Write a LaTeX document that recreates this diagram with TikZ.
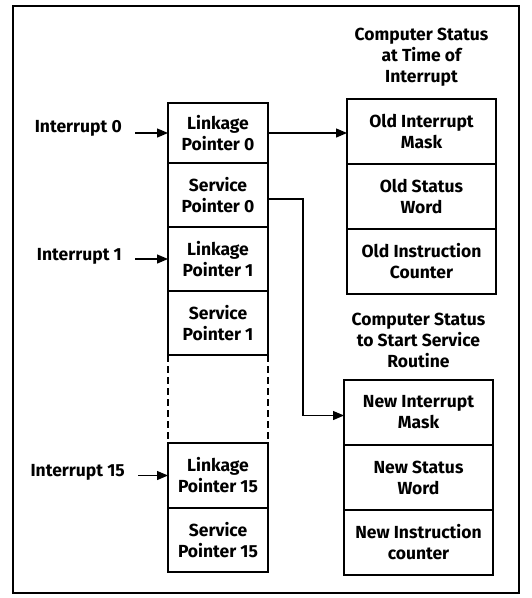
\documentclass[tikz,border=0pt]{standalone}
\usepackage{fontspec}
\setmainfont{Fira Sans}
\usetikzlibrary{positioning, arrows.meta, calc}

\begin{document}
\begin{tikzpicture}[x=1pt, y=-1pt,
    every node/.style={font=\bfseries\fontsize{17.5}{21}\selectfont},
    cell/.style={draw, line width=1.3pt, minimum width=100pt, minimum height=64pt,
                 align=center, inner sep=0pt, outer sep=0pt},
    wide/.style={cell, minimum width=149pt, minimum height=65pt},
    lbl/.style={inner xsep=13pt, inner ysep=0pt},
    heading/.style={align=center, inner sep=0pt},
    arr/.style={line width=1.3pt, -{Triangle[length=11pt,width=9pt]}}]
    \useasboundingbox (0,0) rectangle (532,598);
    \draw[line width=1.5pt] (13,6) rectangle (519,593);

    % pointer table
    \node[cell, minimum height=60pt] (lp0) at (218,133) {Linkage\\Pointer 0};
    \node[cell, below=0pt of lp0] (sp0) {Service\\Pointer 0};
    \node[cell, below=0pt of sp0] (lp1) {Linkage\\Pointer 1};
    \node[cell, below=0pt of lp1] (sp1) {Service\\Pointer 1};
    \node[cell, minimum height=65pt] (lp15) at (218,475.5) {Linkage\\Pointer 15};
    \node[cell, below=0pt of lp15] (sp15) {Service\\Pointer 15};
    \draw[line width=1.3pt, dash pattern=on 7pt off 4pt]
        (sp1.south west) -- (lp15.north west)
        (sp1.south east) -- (lp15.north east);

    % interrupt inputs
    \node[lbl, left=33pt of lp0, yshift=5pt] (int0) {Interrupt 0};
    \node[lbl, left=33pt of lp1, yshift=3pt] (int1) {Interrupt 1};
    \node[lbl, left=30pt of lp15, yshift=3pt] (int15) {Interrupt 15};
    \foreach \i/\p in {int0/lp0, int1/lp1, int15/lp15}
        \draw[arr] (\i.east |- \p.west) -- (\p.west);

    % old status
    \node[wide] (oim) at (421.5,131.5) {Old Interrupt\\Mask};
    \node[wide, below=0pt of oim] (osw) {Old Status\\Word};
    \node[wide, below=0pt of osw] (oic) {Old Instruction\\Counter};
    \node[heading, above=12pt of oim] (oldhd) {Computer Status\\at Time of\\Interrupt};

    % new status
    \node[wide] (nim) at (418.5,412.5) {New Interrupt\\Mask};
    \node[wide, below=0pt of nim] (nsw) {New Status\\Word};
    \node[wide, below=0pt of nsw] (nic) {New Instruction\\counter};
    \node[heading, above=12pt of nim] (newhd) {Computer Status\\to Start Service\\Routine};

    \draw[arr] (lp0.east) -- (lp0.east -| oim.west);
    \draw[arr] ($(sp0.east)+(0,4)$) -- ++(35,0) |- ($(nim.west)+(0,3)$);
\end{tikzpicture}
\end{document}
